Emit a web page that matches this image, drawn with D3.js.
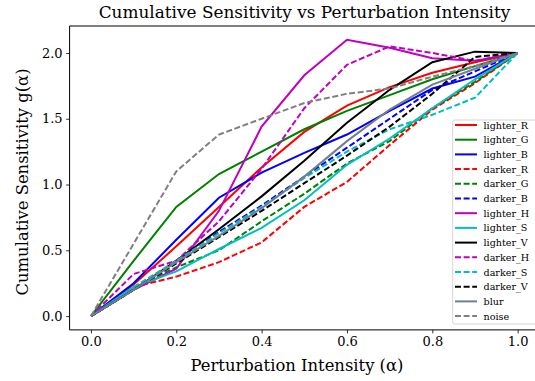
<!DOCTYPE html>
<html>
<head>
<meta charset="utf-8">
<script src="https://cdn.jsdelivr.net/npm/d3@7"></script>
<style>
  body { margin: 0; background: #fff; }
  svg text { font-family: "DejaVu Serif", serif; fill: #000; }
</style>
</head>
<body>
<svg id="sens_chart"></svg>
<script>
// intensity steps (x) and one array per perturbation (y)
const alphas = [0, 0.1, 0.2, 0.3, 0.4, 0.5, 0.6, 0.7, 0.8, 0.9, 1.0]

const lighter_R = [0, 0.24, 0.53, 0.83, 1.13, 1.40, 1.60, 1.74, 1.85, 1.93, 2.0]
const lighter_G = [0, 0.42, 0.83, 1.08, 1.25, 1.42, 1.56, 1.68, 1.80, 1.90, 2.0]
const lighter_B = [0, 0.25, 0.58, 0.90, 1.09, 1.24, 1.38, 1.56, 1.73, 1.82, 2.0]
const darker_R  = [0, 0.22, 0.30, 0.41, 0.56, 0.83, 1.02, 1.30, 1.57, 1.77, 2.0]
const darker_G  = [0, 0.22, 0.37, 0.50, 0.72, 0.93, 1.16, 1.33, 1.58, 1.78, 2.0]
const darker_B  = [0, 0.20, 0.42, 0.64, 0.84, 1.06, 1.28, 1.50, 1.72, 1.86, 2.0]
const lighter_H = [0, 0.20, 0.36, 0.80, 1.44, 1.83, 2.10, 2.04, 1.96, 1.94, 2.0]
const lighter_S = [0, 0.22, 0.34, 0.51, 0.67, 0.88, 1.15, 1.35, 1.58, 1.80, 2.0]
const lighter_V = [0, 0.20, 0.42, 0.66, 0.91, 1.18, 1.47, 1.72, 1.93, 2.01, 2.0]
const darker_H  = [0, 0.32, 0.42, 0.72, 1.12, 1.58, 1.91, 2.05, 2.00, 1.94, 2.0]
const darker_S  = [0, 0.22, 0.42, 0.63, 0.83, 1.05, 1.25, 1.42, 1.53, 1.66, 2.0]
const darker_V  = [0, 0.20, 0.40, 0.60, 0.80, 1.01, 1.22, 1.44, 1.69, 1.97, 2.0]
const blur      = [0, 0.20, 0.41, 0.61, 0.82, 1.06, 1.33, 1.57, 1.76, 1.88, 2.0]
const noise     = [0, 0.55, 1.10, 1.38, 1.50, 1.62, 1.69, 1.73, 1.82, 1.90, 2.0]

const x_ticks = [0, 0.2, 0.4, 0.6, 0.8, 1.0]
const y_ticks = [0, 0.5, 1.0, 1.5, 2.0]

// name, values, colour, dashed?
const series = [
  ["lighter_R", lighter_R, "#ff0000", false],
  ["lighter_G", lighter_G, "#008000", false],
  ["lighter_B", lighter_B, "#0000ff", false],
  ["darker_R", darker_R, "#ff0000", true],
  ["darker_G", darker_G, "#008000", true],
  ["darker_B", darker_B, "#0000ff", true],
  ["lighter_H", lighter_H, "#bf00bf", false],
  ["lighter_S", lighter_S, "#00bfbf", false],
  ["lighter_V", lighter_V, "#000000", false],
  ["darker_H", darker_H, "#bf00bf", true],
  ["darker_S", darker_S, "#00bfbf", true],
  ["darker_V", darker_V, "#000000", true],
  ["blur", blur, "#708090", false],
  ["noise", noise, "#808080", true]
]

var W = 535, H = 381
var svg = d3.select("#sens_chart")
  .attr("width", W)
  .attr("height", H)

// axes box (right side runs off the figure, like the original)
var box = {left: 69.6, right: 539, top: 26, bottom: 329.9}

var x = d3.scaleLinear().domain([-0.05, 1.05]).range([box.left, box.right])
var y = d3.scaleLinear().domain([-0.105, 2.205]).range([box.bottom, box.top])

svg.append("defs").append("clipPath").attr("id", "plotclip")
  .append("rect")
  .attr("x", box.left).attr("y", box.top)
  .attr("width", box.right - box.left).attr("height", box.bottom - box.top)

var line = d3.line()
  .x((d, i) => x(alphas[i]))
  .y(d => y(d))

svg.append("g").attr("clip-path", "url(#plotclip)")
  .selectAll("path")
  .data(series)
  .enter().append("path")
  .attr("d", d => line(d[1]))
  .attr("fill", "none")
  .attr("stroke", d => d[2])
  .attr("stroke-width", 2)
  .attr("stroke-dasharray", d => d[3] ? "6,2.6" : null)

// x axis
svg.append("g")
  .attr("class", "xAxis")
  .attr("transform", "translate(0," + box.bottom + ")")
  .call(d3.axisBottom(x).tickValues(x_ticks).tickFormat(d3.format(".1f")).tickSizeOuter(0).tickSize(3.5).tickPadding(3.5))

// y axis
svg.append("g")
  .attr("class", "yAxis")
  .attr("transform", "translate(" + box.left + ",0)")
  .call(d3.axisLeft(y).tickValues(y_ticks).tickFormat(d3.format(".1f")).tickSizeOuter(0).tickSize(3.5).tickPadding(3.5))

svg.selectAll(".domain").remove()
svg.selectAll(".xAxis, .yAxis").attr("font-family", "DejaVu Serif")
svg.selectAll(".tick line").attr("stroke", "#000").attr("stroke-width", 0.8)
svg.selectAll(".tick text")
  .attr("font-size", "13px")
  .style("font-family", "'DejaVu Serif', serif")
  .attr("fill", "#000")

// spines
svg.append("line").attr("x1", box.left).attr("x2", box.left).attr("y1", box.top).attr("y2", box.bottom)
  .attr("stroke", "#000").attr("stroke-width", 1)
svg.append("line").attr("x1", box.left).attr("x2", box.right).attr("y1", box.bottom).attr("y2", box.bottom)
  .attr("stroke", "#000").attr("stroke-width", 1)
svg.append("line").attr("x1", box.left).attr("x2", box.right).attr("y1", box.top).attr("y2", box.top)
  .attr("stroke", "#000").attr("stroke-width", 1)

// titles
svg.append("text")
  .text("Cumulative Sensitivity vs Perturbation Intensity")
  .attr("x", 304.5).attr("y", 18)
  .attr("text-anchor", "middle")
  .attr("font-size", "16.9px")

svg.append("text")
  .text("Perturbation Intensity (\u03b1)")
  .attr("x", 297).attr("y", 371)
  .attr("text-anchor", "middle")
  .attr("font-size", "16.4px")

svg.append("text")
  .text("Cumulative Sensitivity g(\u03b1)")
  .attr("transform", "translate(28,182) rotate(-90)")
  .attr("text-anchor", "middle")
  .attr("font-size", "16.4px")

// legend
var leg = svg.append("g").attr("class", "legend")
leg.append("rect")
  .attr("x", 452.7).attr("y", 120)
  .attr("width", 100).attr("height", 204)
  .attr("rx", 2)
  .attr("fill", "#fff").attr("fill-opacity", 0.8)
  .attr("stroke", "#cccccc").attr("stroke-width", 0.8)

var legRows = leg.selectAll("g.row")
  .data(series)
  .enter().append("g")
  .attr("class", "row")
  .attr("transform", (d, i) => "translate(0," + (125 + i * 14.7) + ")")

legRows.append("line")
  .attr("x1", 455).attr("x2", 477)
  .attr("stroke", d => d[2])
  .attr("stroke-width", 2)
  .attr("stroke-dasharray", d => d[3] ? "6,2.6" : null)

legRows.append("text")
  .text(d => d[0])
  .attr("x", 483.5).attr("y", 3.5)
  .attr("font-size", "9.6px")
</script>
</body>
</html>
